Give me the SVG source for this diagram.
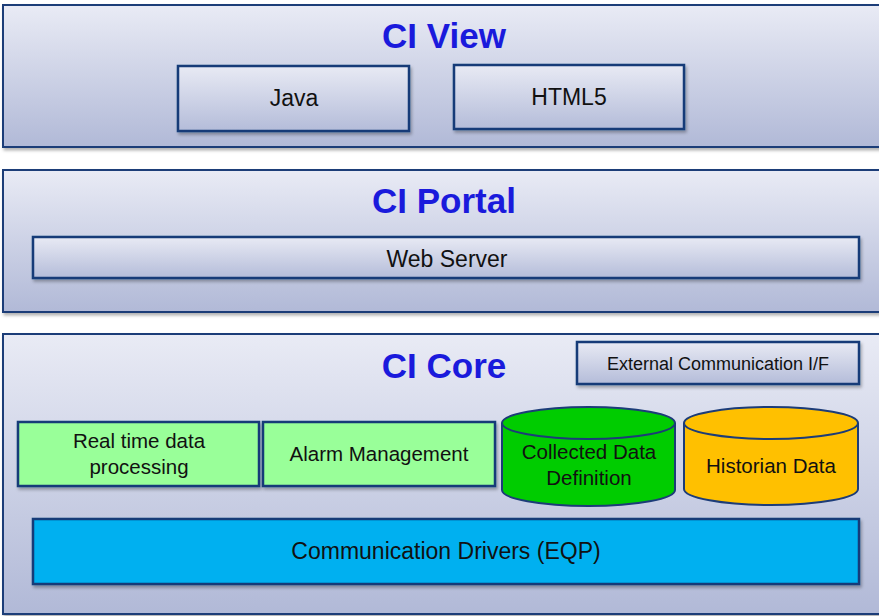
<svg xmlns="http://www.w3.org/2000/svg" width="879" height="616" viewBox="0 0 879 616">
  <defs>
    <linearGradient id="panelFill" x1="0" y1="0" x2="0" y2="1">
      <stop offset="0" stop-color="#e9ebf5"/>
      <stop offset="1" stop-color="#b1b9d7"/>
    </linearGradient>
    <linearGradient id="boxFill" x1="0" y1="0" x2="0" y2="1">
      <stop offset="0" stop-color="#e8eaf4"/>
      <stop offset="1" stop-color="#b4bcd9"/>
    </linearGradient>
    <filter id="shadow" x="-5%" y="-10%" width="110%" height="130%">
      <feDropShadow dx="1.5" dy="2.5" stdDeviation="1.5" flood-color="#000" flood-opacity="0.3"/>
    </filter>
  </defs>
  <style>
    .panel { fill: url(#panelFill); stroke: #1c3c78; stroke-width: 2; filter: url(#shadow); }
    .box { fill: url(#boxFill); stroke: #133a78; stroke-width: 2.5; filter: url(#shadow); }
    .green-lt { fill: #99ff99; stroke: #133a78; stroke-width: 2.5; filter: url(#shadow); }
    .drivers { fill: #00b0f0; stroke: #133a78; stroke-width: 2.5; filter: url(#shadow); }
    .cyl-green { fill: #00cc00; stroke: #1c3c78; stroke-width: 2; }
    .cyl-orange { fill: #ffc000; stroke: #1c3c78; stroke-width: 2; }
    .title { font-family: "Liberation Sans", Arial, sans-serif; font-weight: bold; font-size: 35px; fill: #1a1adc; text-anchor: middle; }
    .label { font-family: "Liberation Sans", Arial, sans-serif; font-size: 23px; fill: #111; text-anchor: middle; }
    .core { font-size: 20.5px; }
    .small { font-size: 18px; }
  </style>

  <rect width="879" height="616" fill="#ffffff"/>

  <!-- View layer -->
  <g id="ci-view">
    <rect class="panel" x="3" y="5" width="884" height="142"/>
    <text class="title" x="444" y="48">CI View</text>
  </g>
  <g id="java">
    <rect class="box" x="178" y="66" width="231" height="65"/>
    <text class="label" x="294" y="106">Java</text>
  </g>
  <g id="html5">
    <rect class="box" x="454" y="65" width="230" height="64"/>
    <text class="label" x="569" y="105">HTML5</text>
  </g>

  <!-- Portal layer -->
  <g id="ci-portal">
    <rect class="panel" x="3" y="170" width="884" height="142"/>
    <text class="title" x="444" y="213">CI Portal</text>
  </g>
  <g id="web-server">
    <rect class="box" x="33" y="237" width="826" height="41"/>
    <text class="label" x="447" y="267">Web Server</text>
  </g>

  <!-- Core layer -->
  <g id="ci-core">
    <rect class="panel" x="3" y="334" width="884" height="280"/>
    <text class="title" x="444" y="378">CI Core</text>
  </g>
  <g id="external-comm">
    <rect class="box" x="577" y="342" width="282" height="42"/>
    <text class="label small" x="718" y="370">External Communication I/F</text>
  </g>
  <g id="realtime">
    <rect class="green-lt" x="18" y="422" width="241" height="64"/>
    <text class="label core" x="139" y="448">Real time data</text>
    <text class="label core" x="139" y="474">processing</text>
  </g>
  <g id="alarm">
    <rect class="green-lt" x="263" y="422" width="232" height="64"/>
    <text class="label core" x="379" y="461">Alarm Management</text>
  </g>
  <g id="collected-data">
    <path class="cyl-green" d="M502,423 A86.5,16 0 0 1 675,423 L675,490 A86.5,16 0 0 1 502,490 Z"/>
    <path class="cyl-green" d="M502,423 A86.5,16 0 0 0 675,423"/>
    <text class="label core" x="589" y="459">Collected Data</text>
    <text class="label core" x="589" y="485">Definition</text>
  </g>
  <g id="historian">
    <path class="cyl-orange" d="M684,423 A87,16 0 0 1 858,423 L858,489 A87,16 0 0 1 684,489 Z"/>
    <path class="cyl-orange" d="M684,423 A87,16 0 0 0 858,423"/>
    <text class="label core" x="771" y="473">Historian Data</text>
  </g>
  <g id="drivers">
    <rect class="drivers" x="33" y="519" width="826" height="65"/>
    <text class="label" x="446" y="559">Communication Drivers (EQP)</text>
  </g>

  <g id="connectors"/>
</svg>
